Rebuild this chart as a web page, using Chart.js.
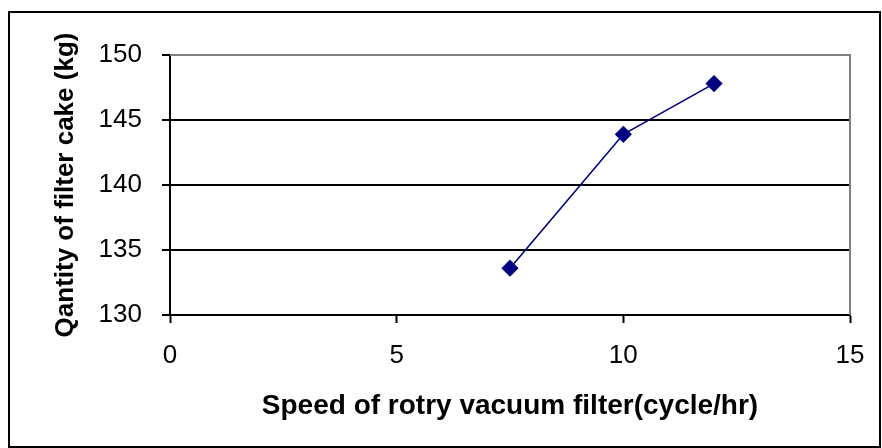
<!DOCTYPE html>
<html>
<head>
<meta charset="utf-8">
<script src="https://cdn.jsdelivr.net/npm/chart.js@4/dist/chart.umd.min.js"></script>
<style>
html,body{margin:0;padding:0;background:#fff;}
#wrap{width:882px;height:448px;position:relative;}
</style>
</head>
<body>
<div id="wrap"><canvas id="c" width="882" height="448"></canvas></div>
<script>
const speeds = [7.5, 10, 12];
const cakeQuantity = [133.6, 143.9, 147.8];
const xTicks = [0, 5, 10, 15];
const yTicks = [130, 135, 140, 145, 150];
const xTitle = 'Speed of rotry vacuum filter(cycle/hr)';
const yTitle = 'Qantity of filter cake (kg)';

const frame = {
  id: 'frame',
  beforeDraw(chart) {
    const ctx = chart.ctx;
    ctx.save();
    ctx.fillStyle = '#fff';
    ctx.fillRect(0, 0, chart.width, chart.height);
    ctx.strokeStyle = '#000';
    ctx.lineWidth = 2;
    ctx.strokeRect(9, 12, 871, 435);
    ctx.restore();
  },
  beforeDatasetsDraw(chart) {
    const a = chart.chartArea, ctx = chart.ctx;
    ctx.save();
    ctx.strokeStyle = '#808080';
    ctx.lineWidth = 2;
    ctx.beginPath();
    ctx.moveTo(a.left, a.top);
    ctx.lineTo(a.right, a.top);
    ctx.lineTo(a.right, a.bottom);
    ctx.stroke();
    ctx.restore();
  }
};

new Chart(document.getElementById('c'), {
  type: 'scatter',
  data: {
    datasets: [{
      data: speeds.map((s, i) => ({x: s, y: cakeQuantity[i]})),
      showLine: true,
      borderColor: '#000080',
      backgroundColor: '#000080',
      borderWidth: 1.6,
      pointStyle: 'rectRot',
      pointRadius: 7.5,
      pointHoverRadius: 7.5
    }]
  },
  plugins: [frame],
  options: {
    responsive: false,
    animation: false,
    devicePixelRatio: 1,
    layout: {padding: {left: 20, top: 55, right: 32, bottom: 0}},
    plugins: {legend: {display: false}, tooltip: {enabled: false}},
    scales: {
      x: {
        type: 'linear', min: 0, max: 15,
        afterBuildTicks: ax => { ax.ticks = xTicks.map(v => ({value: v})); },
        afterFit: ax => { ax.height = 133; },
        grid: {drawOnChartArea: false, drawTicks: true, tickLength: 8, tickColor: '#000', tickWidth: 2},
        border: {color: '#000', width: 2},
        ticks: {color: '#000', padding: 17, font: {family: 'Liberation Sans', size: 26}, maxRotation: 0},
        title: {display: true, text: xTitle, color: '#000', font: {family: 'Liberation Sans', size: 28, weight: 'bold'}, padding: {top: 0, bottom: 25}}
      },
      y: {
        type: 'linear', min: 130, max: 150,
        afterBuildTicks: ax => { ax.ticks = yTicks.map(v => ({value: v})); },
        afterFit: ax => { ax.width = 150; },
        grid: {drawOnChartArea: true, drawTicks: true, tickLength: 8, tickWidth: 2, lineWidth: 2,
               color: c => c.tick && c.tick.value === 150 ? 'rgba(0,0,0,0)' : '#000', tickColor: '#000'},
        border: {color: '#000', width: 2},
        ticks: {color: '#000', padding: 20, font: {family: 'Liberation Sans', size: 26}},
        title: {display: true, text: yTitle, color: '#000', font: {family: 'Liberation Sans', size: 26, weight: 'bold'}, padding: {top: 30, bottom: 0}}
      }
    }
  }
});
</script>
</body>
</html>
